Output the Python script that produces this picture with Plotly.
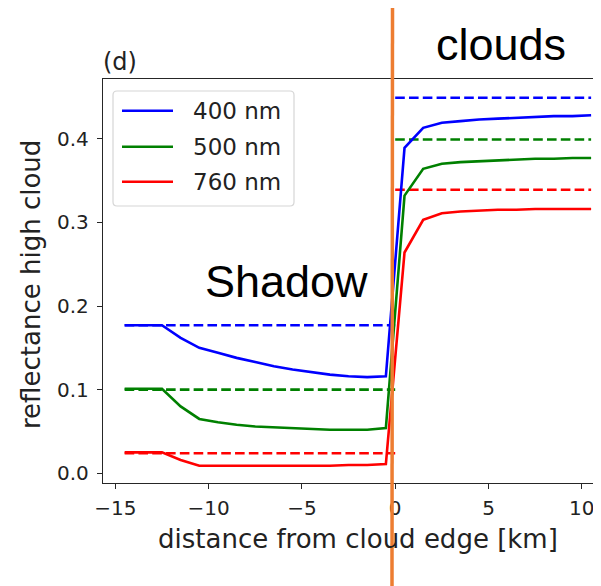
import plotly.graph_objects as go

# ---------------- data ----------------
distance_km = [-14.5, -13.5, -12.5, -11.5, -10.5, -9.5, -8.5, -7.5, -6.5, -5.5, -4.5, -3.5, -2.5,
               -1.5, -0.5, 0.5, 1.5, 2.5, 3.5, 4.5, 5.5, 6.5, 7.5, 8.5, 9.5, 10.5]

refl_400 = [0.177, 0.177, 0.177, 0.162, 0.150, 0.144, 0.138, 0.133, 0.128, 0.124, 0.121, 0.118, 0.116,
            0.115, 0.116, 0.389, 0.413, 0.419, 0.421, 0.423, 0.424, 0.425, 0.426, 0.427, 0.427, 0.428]
refl_500 = [0.101, 0.101, 0.101, 0.080, 0.065, 0.061, 0.058, 0.056, 0.055, 0.054, 0.053, 0.052, 0.052,
            0.052, 0.054, 0.332, 0.364, 0.370, 0.372, 0.373, 0.374, 0.375, 0.376, 0.376, 0.377, 0.377]
refl_760 = [0.025, 0.025, 0.025, 0.016, 0.009, 0.009, 0.009, 0.009, 0.009, 0.009, 0.009, 0.009, 0.010,
            0.010, 0.011, 0.264, 0.303, 0.311, 0.313, 0.314, 0.315, 0.315, 0.316, 0.316, 0.316, 0.316]

# reference (dashed) levels: shadow side and cloud side
shadow_x = [-14.5, 0.0]
cloud_x = [0.0, 10.5]
ref_shadow = {"400": 0.177, "500": 0.100, "760": 0.024}
ref_cloud = {"400": 0.449, "500": 0.399, "760": 0.339}

legend_labels = ["400 nm", "500 nm", "760 nm"]
x_ticks = [-15, -10, -5, 0, 5, 10]
x_tick_text = ["\u221215", "\u221210", "\u22125", "0", "5", "10"]
y_ticks = [0.0, 0.1, 0.2, 0.3, 0.4]
y_tick_text = ["0.0", "0.1", "0.2", "0.3", "0.4"]

# ---------------- style / layout ----------------
OFF = 8                      # default page margin of the html body
WIN_W, WIN_H = 601, 586
W, H = WIN_W - OFF, WIN_H - OFF
# plot-area edges in window pixels
AX_L, AX_R, AX_T, AX_B = 103, 601, 79, 483
L, R, T, B = AX_L - OFF, WIN_W - AX_R, AX_T - OFF, WIN_H - AX_B
PW, PH = W - L - R, H - T - B
colors = {"400": "#0000ff", "500": "#008000", "760": "#ff0000"}
AX = "#262626"
TICKFONT = dict(family="DejaVu Sans", size=20, color="#222222")


def px(xp):
    """window pixel x -> paper"""
    return (xp - AX_L) / PW


def py(yp):
    """window pixel y -> paper"""
    return (AX_B - yp) / PH


fig = go.Figure()

series = [("400", refl_400), ("500", refl_500), ("760", refl_760)]
for key, vals in series:
    fig.add_trace(go.Scatter(x=shadow_x, y=[ref_shadow[key]] * 2, mode="lines",
                             line=dict(color=colors[key], width=2.6, dash="9.6px,4.2px"),
                             showlegend=False, hoverinfo="skip"))
    fig.add_trace(go.Scatter(x=cloud_x, y=[ref_cloud[key]] * 2, mode="lines",
                             line=dict(color=colors[key], width=2.6, dash="9.6px,4.2px"),
                             showlegend=False, hoverinfo="skip"))
for (key, vals), lab in zip(series, legend_labels):
    fig.add_trace(go.Scatter(x=distance_km, y=vals, mode="lines", name=lab,
                             line=dict(color=colors[key], width=2.6), showlegend=False))

shapes = []
annotations = []

# legend box (rounded)
bx0, by0, bx1, by1, rr = 113, 91, 294, 206, 4


def pt(xp, yp):
    return f"{px(xp):.5f},{py(yp):.5f}"


path = (f"M {pt(bx0+rr, by0)} L {pt(bx1-rr, by0)} Q {pt(bx1, by0)} {pt(bx1, by0+rr)} "
        f"L {pt(bx1, by1-rr)} Q {pt(bx1, by1)} {pt(bx1-rr, by1)} "
        f"L {pt(bx0+rr, by1)} Q {pt(bx0, by1)} {pt(bx0, by1-rr)} "
        f"L {pt(bx0, by0+rr)} Q {pt(bx0, by0)} {pt(bx0+rr, by0)} Z")
shapes.append(dict(type="path", xref="paper", yref="paper", path=path,
                   line=dict(color="#d6d6d6", width=1.2), fillcolor="rgba(255,255,255,0.85)",
                   layer="above"))
rows = [110.7, 146.7, 181.7]
for (key, _), lab, yr in zip(series, legend_labels, rows):
    shapes.append(dict(type="line", xref="paper", yref="paper", x0=px(122), x1=px(173),
                       y0=py(yr), y1=py(yr), line=dict(color=colors[key], width=2.6), layer="above"))
    annotations.append(dict(text=lab, xref="paper", yref="paper", x=px(191), y=py(yr),
                            xanchor="left", yanchor="middle", showarrow=False,
                            font=dict(family="DejaVu Sans", size=23, color="#222222")))

# orange vertical divider across the whole figure
shapes.append(dict(type="line", xref="paper", yref="paper", x0=px(392.5), x1=px(392),
                   y0=py(OFF), y1=py(WIN_H), line=dict(color="#ED7D31", width=3.5), layer="above"))

# axis titles
annotations.append(dict(text="distance from cloud edge [km]", xref="paper", yref="paper",
                        x=px(357.5), y=py(539), xanchor="center", yanchor="middle", showarrow=False,
                        font=dict(family="DejaVu Sans", size=26, color="#222222")))
annotations.append(dict(text="reflectance high cloud", xref="paper", yref="paper",
                        x=px(31), y=py(285), xanchor="center", yanchor="middle", showarrow=False,
                        textangle=-90, font=dict(family="DejaVu Sans", size=26, color="#222222")))
annotations.append(dict(text="(d)", xref="paper", yref="paper", x=px(101), y=py(62),
                        xanchor="left", yanchor="middle", showarrow=False,
                        font=dict(family="DejaVu Sans", size=24, color="#222222")))
annotations.append(dict(text="Shadow", xref="paper", yref="paper", x=px(286), y=py(281),
                        xanchor="center", yanchor="middle", showarrow=False,
                        font=dict(family="Liberation Sans", size=45, color="#000000")))
annotations.append(dict(text="clouds", xref="paper", yref="paper", x=px(501), y=py(45),
                        xanchor="center", yanchor="middle", showarrow=False,
                        font=dict(family="Liberation Sans", size=45, color="#000000")))

fig.update_layout(
    width=W, height=H,
    margin=dict(l=L, r=R, t=T, b=B, pad=0),
    paper_bgcolor="white", plot_bgcolor="white",
    showlegend=False,
    shapes=shapes, annotations=annotations,
    xaxis=dict(range=[-15.66, 11.03], tickvals=x_ticks, ticktext=x_tick_text,
               showgrid=False, zeroline=False, showline=True, linecolor=AX, linewidth=1.4,
               mirror=True, ticks="outside", ticklen=5, tickwidth=1.2, tickcolor=AX,
               tickfont=TICKFONT, ticklabelstandoff=2),
    yaxis=dict(range=[-0.0116, 0.4714], tickvals=y_ticks, ticktext=y_tick_text,
               showgrid=False, zeroline=False, showline=True, linecolor=AX, linewidth=1.4,
               mirror=False, ticks="outside", ticklen=5, tickwidth=1.2, tickcolor=AX,
               tickfont=TICKFONT, ticklabelstandoff=4),
)

fig.write_html("out.html")
